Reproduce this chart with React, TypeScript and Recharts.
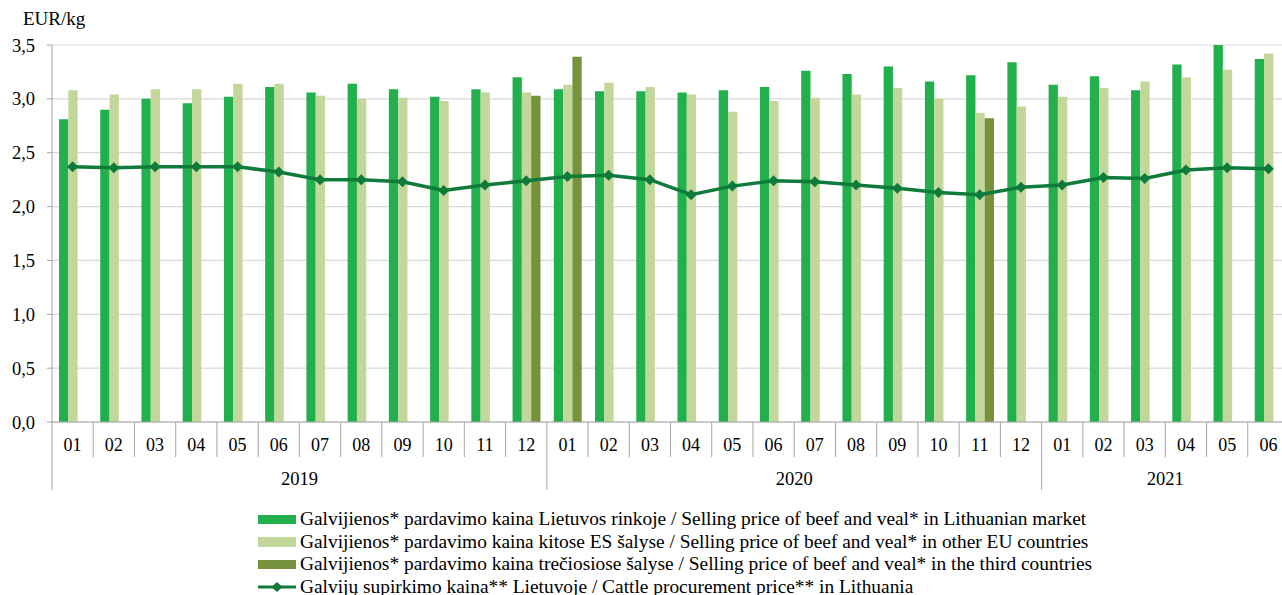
import React from "react";
import { ComposedChart, Bar, Line, XAxis, YAxis, CartesianGrid } from "recharts";

const months = ["01", "02", "03", "04", "05", "06", "07", "08", "09", "10", "11", "12",
  "01", "02", "03", "04", "05", "06", "07", "08", "09", "10", "11", "12",
  "01", "02", "03", "04", "05", "06"];
const years = [
  "2019", "2019", "2019", "2019", "2019", "2019", "2019", "2019", "2019", "2019", "2019", "2019",
  "2020", "2020", "2020", "2020", "2020", "2020", "2020", "2020", "2020", "2020", "2020", "2020",
  "2021", "2021", "2021", "2021", "2021", "2021"];

// Lithuanian market
const ltPrice = [2.81, 2.90, 3.00, 2.96, 3.02, 3.11, 3.06, 3.14, 3.09, 3.02, 3.09, 3.20,
  3.09, 3.07, 3.07, 3.06, 3.08, 3.11, 3.26, 3.23, 3.30, 3.16, 3.22, 3.34,
  3.13, 3.21, 3.08, 3.32, 3.50, 3.37];
// other EU countries
const euPrice = [3.08, 3.04, 3.09, 3.09, 3.14, 3.14, 3.03, 3.00, 3.01, 2.98, 3.06, 3.06,
  3.13, 3.15, 3.11, 3.04, 2.88, 2.98, 3.01, 3.04, 3.10, 3.00, 2.87, 2.93,
  3.02, 3.10, 3.16, 3.20, 3.27, 3.42];
// third countries
const thirdPrice: (number | null)[] = [null, null, null, null, null, null, null, null, null, null, null, 3.03,
  3.39, null, null, null, null, null, null, null, null, null, 2.82, null,
  null, null, null, null, null, null];
// cattle procurement price
const cattlePrice = [2.37, 2.36, 2.37, 2.37, 2.37, 2.32, 2.25, 2.25, 2.23, 2.15, 2.20, 2.24,
  2.28, 2.29, 2.25, 2.11, 2.19, 2.24, 2.23, 2.20, 2.17, 2.13, 2.11, 2.18,
  2.20, 2.27, 2.26, 2.34, 2.36, 2.35];

const yTicks = [0, 0.5, 1, 1.5, 2, 2.5, 3, 3.5];

const data = months.map((m, i) => ({
  key: i,
  month: m,
  year: years[i],
  lt: ltPrice[i],
  eu: euPrice[i],
  third: thirdPrice[i],
  cattle: cattlePrice[i],
}));

const C_LT = "#21b04b";
const C_EU = "#c4d79b";
const C_THIRD = "#76923c";
const C_LINE = "#0f7b3b";
const FONT = "Liberation Serif";

const W = 1282;
const H = 595;
// the original plot runs slightly past the right edge of the picture
const CHART_W = 1289;
const PLOT_LEFT = 52;
const BAND = (CHART_W - PLOT_LEFT) / months.length;

function MonthTick(props: any) {
  const { x, y, payload } = props;
  const i = payload.value as number;
  const left = x - BAND / 2;
  const firstOfYear = i === 0 || years[i] !== years[i - 1];
  let yearLabel = null;
  if (firstOfYear) {
    const count = years.filter((yy) => yy === years[i]).length;
    yearLabel = (
      <text x={left + (count * BAND) / 2} y={y + 63} textAnchor="middle" fontSize={18.5} fill="#000" fontFamily={FONT}>
        {years[i]}
      </text>
    );
  }
  return (
    <g>
      <line x1={left} x2={left} y1={y} y2={firstOfYear ? y + 68 : y + 35} stroke="#a6a6a6" strokeWidth={1} />
      <text x={x} y={y + 28.5} textAnchor="middle" fontSize={18} fill="#000" fontFamily={FONT}>
        {months[i]}
      </text>
      {yearLabel}
    </g>
  );
}

function Diamond(props: any) {
  const { cx, cy } = props;
  if (cx == null || cy == null) return null;
  const r = 5.5;
  return <polygon points={`${cx},${cy - r} ${cx + r},${cy} ${cx},${cy + r} ${cx - r},${cy}`} fill={C_LINE} />;
}

const legendItems = [
  { type: "bar", color: C_LT, label: "Galvijienos* pardavimo kaina Lietuvos rinkoje / Selling price of beef and veal* in Lithuanian market" },
  { type: "bar", color: C_EU, label: "Galvijienos* pardavimo kaina kitose ES šalyse / Selling price of beef and veal* in other EU countries" },
  { type: "bar", color: C_THIRD, label: "Galvijienos* pardavimo kaina trečiosiose šalyse / Selling price of beef and veal* in the third countries" },
  { type: "line", color: C_LINE, label: "Galvijų supirkimo kaina** Lietuvoje / Cattle procurement price** in Lithuania" },
];

export default function App() {
  return (
    <div style={{ position: "relative", width: W, height: H, overflow: "hidden", fontFamily: FONT, background: "#fff" }}>
      <style>{"body{margin:0}"}</style>
      <div style={{ position: "absolute", left: 23, top: 9, fontSize: 19, lineHeight: "20px", color: "#000" }}>EUR/kg</div>
      <ComposedChart
        width={CHART_W}
        height={H}
        data={data}
        margin={{ top: 45, right: 0, bottom: 0, left: 0 }}
        barGap={0}
        barSize={9.3}
      >
        <CartesianGrid horizontal vertical={false} stroke="#d9d9d9" strokeWidth={1.2} />
        <XAxis
          dataKey="key"
          height={173}
          tickLine={false}
          tickSize={0}
          tickMargin={0}
          axisLine={{ stroke: "#a6a6a6" }}
          interval={0}
          tick={<MonthTick />}
        />
        <YAxis
          width={PLOT_LEFT}
          domain={[0, 3.5]}
          ticks={yTicks}
          tickSize={5}
          tickMargin={12}
          tickLine={{ stroke: "#a6a6a6" }}
          axisLine={{ stroke: "#a6a6a6" }}
          tick={{ fontSize: 18.5, fill: "#000", fontFamily: FONT }}
          tickFormatter={(v: number) => v.toFixed(1).replace(".", ",")}
        />
        <Bar dataKey="lt" fill={C_LT} isAnimationActive={false} />
        <Bar dataKey="eu" fill={C_EU} isAnimationActive={false} />
        <Bar dataKey="third" fill={C_THIRD} isAnimationActive={false} />
        <Line
          dataKey="cattle"
          stroke={C_LINE}
          strokeWidth={3.5}
          dot={<Diamond />}
          activeDot={false}
          isAnimationActive={false}
        />
      </ComposedChart>
      <div style={{ position: "absolute", left: 258, top: 508, fontSize: 19.4, lineHeight: "22.5px", color: "#000" }}>
        {legendItems.map((it) => (
          <div key={it.label} style={{ display: "flex", alignItems: "center", whiteSpace: "nowrap", height: 22.5 }}>
            {it.type === "bar" ? (
              <span style={{ display: "inline-block", width: 38, height: 9.5, background: it.color, marginRight: 4 }} />
            ) : (
              <svg width={38} height={12} style={{ marginRight: 4 }}>
                <line x1={0} x2={38} y1={6} y2={6} stroke={it.color} strokeWidth={3} />
                <polygon points="19,1 24.5,6 19,11 13.5,6" fill={it.color} />
              </svg>
            )}
            <span>{it.label}</span>
          </div>
        ))}
      </div>
    </div>
  );
}
